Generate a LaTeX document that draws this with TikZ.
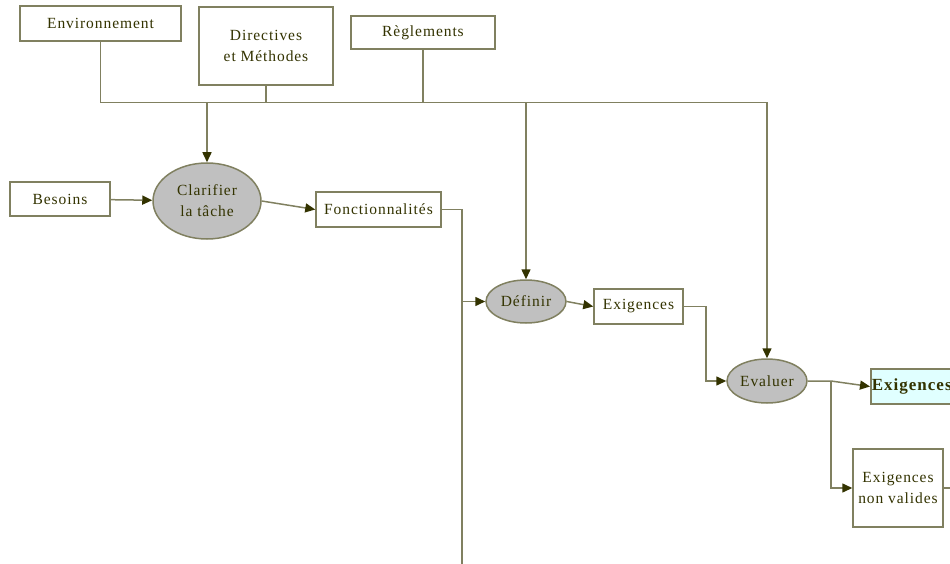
\documentclass[tikz,border=0pt]{standalone}
\usepackage{fontspec}
\setmainfont{Liberation Serif}[LetterSpace=6]
\usetikzlibrary{arrows.meta,shapes.geometric}
\definecolor{trait}{RGB}{128,128,96}
\definecolor{pointe}{RGB}{51,51,0}
\definecolor{encre}{RGB}{51,51,0}
\definecolor{gris}{RGB}{192,192,192}
\definecolor{ciel}{RGB}{224,255,255}
\tikzset{>={Stealth[inset=0pt,length=10pt,width=9pt,color=pointe]}}

\begin{document}
\begin{tikzpicture}[x=1pt,y=-1pt,font=\fontsize{15.5}{21}\selectfont,
  boite/.style={draw=trait,line width=1.5pt,fill=white,text=encre,inner sep=2pt,align=center},
  tache/.style={ellipse,draw=trait,line width=1.5pt,fill=gris,text=encre,inner sep=0pt,align=center},
  lien/.style={draw=trait,line width=1.5pt},
  fleche/.style={lien,->}]
\clip (0,0) rectangle (950,564);
\node[boite,minimum width=161,minimum height=35] (env) at (100.5,23.5) {Environnement};
\node[boite,minimum width=134,minimum height=78] (dir) at (266,46) {Directives\\et Méthodes};
\node[boite,minimum width=144,minimum height=33] (reg) at (423,32.5) {Règlements};
\node[boite,minimum width=100,minimum height=34] (bes) at (60,199) {Besoins};
\node[tache,minimum width=108,minimum height=76] (clar) at (207,201) {Clarifier\\la tâche};
\node[boite,minimum width=125,minimum height=35] (fonc) at (378.5,209.5) {Fonctionnalités};
\node[tache,minimum width=80,minimum height=43] (def) at (526,301.5) {Définir};
\node[boite,minimum width=89,minimum height=35] (exi) at (638.5,306.5) {Exigences};
\node[tache,minimum width=80,minimum height=44] (eva) at (767,381) {Evaluer};
\node[boite,fill=ciel,anchor=west,text width=94,align=left,inner xsep=1pt,minimum height=35,font=\fontsize{17}{21}\selectfont\bfseries] (ok) at (870,386.5) {Exigences};
\node[boite,minimum width=90,minimum height=78] (nonv) at (898,488) {Exigences\\non valides};
\coordinate (bus) at (0,102.5);
\coordinate (bas) at (462,564);
\coordinate (tri) at (831,381);
\coordinate (fin) at (950,488);
\draw[lien] (env.south) -- (env.south |- bus) -- (eva.north |- bus);
\draw[lien] (dir) -- (dir |- bus);
\draw[lien] (reg) -- (reg |- bus);
\draw[fleche] (clar |- bus) -- (clar);
\draw[fleche] (def |- bus) -- (def);
\draw[fleche] (eva |- bus) -- (eva);
\draw[fleche] (bes) -- (clar);
\draw[fleche] (clar.east) -- (fonc.west);
\draw[lien] (fonc) -| (bas);
\draw[fleche] (bas |- def) -- (def);
\draw[fleche] (def.east) -- (exi.west);
\draw[fleche] (exi.east) -- ++(22,0) |- (eva);
\draw[fleche] (eva) -- (tri) -- (ok.west);
\draw[fleche] (tri) |- (nonv);
\draw[lien] (nonv) -- (fin);
\end{tikzpicture}
\end{document}
